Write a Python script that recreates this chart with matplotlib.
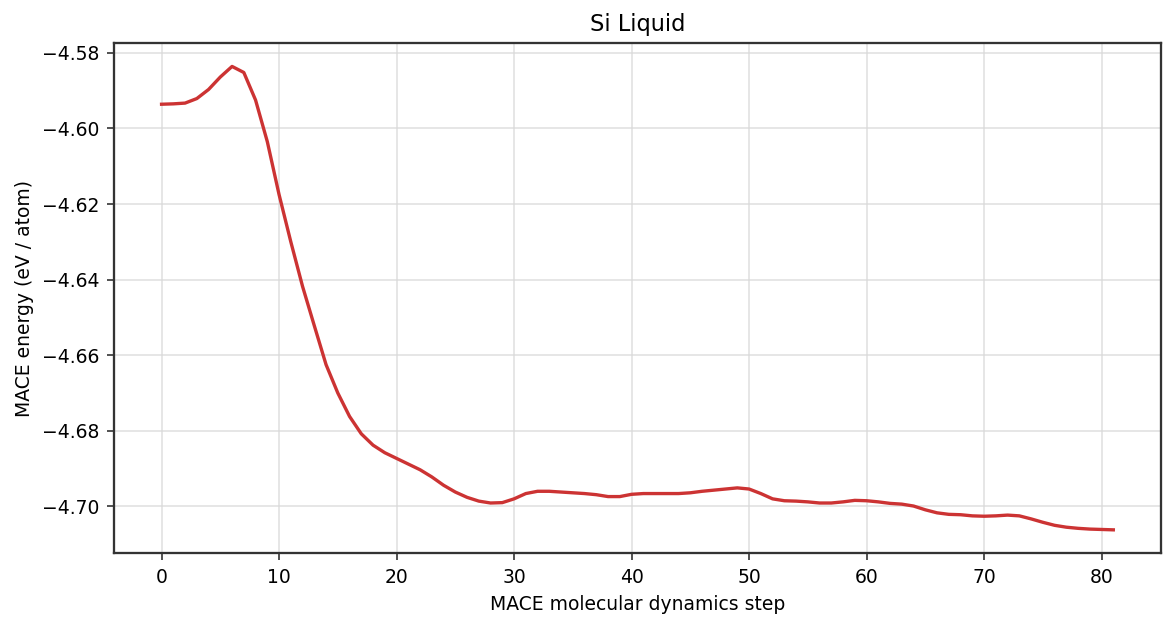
import numpy as np
import matplotlib
matplotlib.use("Agg")
import matplotlib.pyplot as plt

# MACE MD energies (eV / atom)
steps = np.arange(82)
energy = [
    -4.5936, -4.5935, -4.5933, -4.5921, -4.5897, -4.5864, -4.5836, -4.5852, -4.5925, -4.6035,
    -4.6175, -4.6300, -4.6418, -4.6522, -4.6625, -4.6700, -4.6762, -4.6808, -4.6838, -4.6858,
    -4.6873, -4.6888, -4.6903, -4.6922, -4.6944, -4.6962, -4.6976, -4.6986, -4.6991, -4.6990,
    -4.6980, -4.6966, -4.6960, -4.6960, -4.6962, -4.6964, -4.6966, -4.6969, -4.6974, -4.6974,
    -4.6968, -4.6966, -4.6966, -4.6966, -4.6966, -4.6964, -4.6960, -4.6957, -4.6954, -4.6951,
    -4.6954, -4.6966, -4.6980, -4.6985, -4.6986, -4.6988, -4.6991, -4.6991, -4.6988, -4.6984,
    -4.6985, -4.6988, -4.6992, -4.6994, -4.6999, -4.7009, -4.7017, -4.7021, -4.7022, -4.7025,
    -4.7026, -4.7025, -4.7023, -4.7025, -4.7033, -4.7042, -4.7050, -4.7055, -4.7058, -4.7060,
    -4.7061, -4.7062,
]

plt.rcParams['font.size'] = 9


def style_ax(ax, title, xName, yName):
    ax.set_title(title)
    ax.set_xlabel(xName)
    ax.set_ylabel(yName)
    ax.grid(True, color='#d9d9d9', alpha=0.7, linewidth=0.9)
    for sp in ax.spines.values():
        sp.set_color('#333333')
        sp.set_linewidth(1.1)
    ax.tick_params(color='#333333', labelcolor='black')


def main():
    fig = plt.figure(figsize=(1175 / 150, 627 / 150), dpi=150)
    ax = fig.add_axes([0.097, 0.118, 0.891, 0.813])
    ax.plot(steps, energy, color='#cc3333', linewidth=1.6)
    style_ax(ax, 'Si Liquid', 'MACE molecular dynamics step', 'MACE energy (eV / atom)')
    fig.savefig('out.png', dpi=150)


if __name__ == '__main__':
    main()
